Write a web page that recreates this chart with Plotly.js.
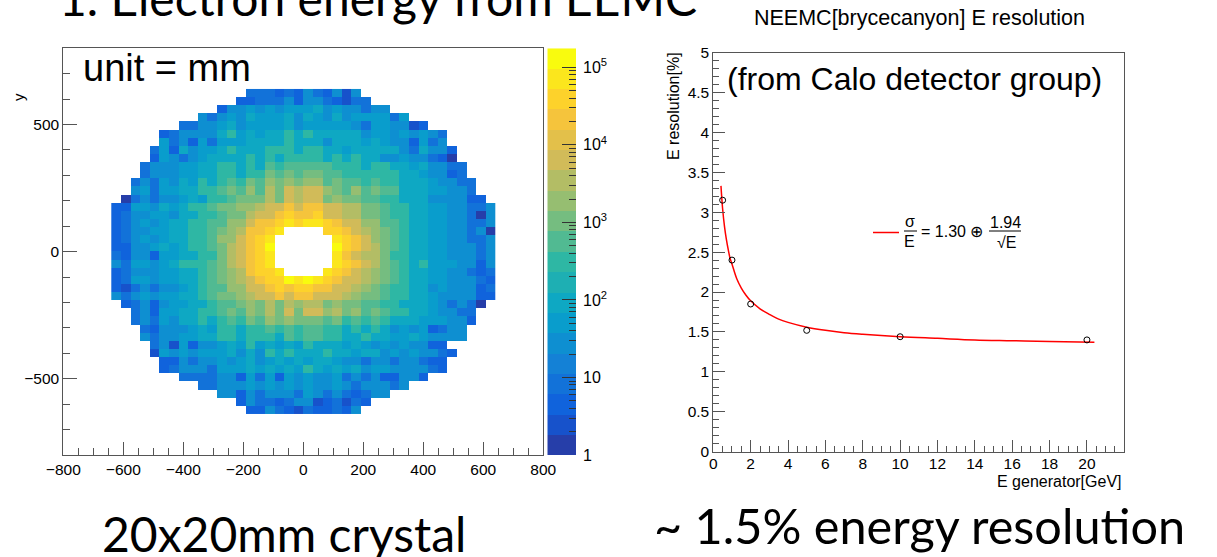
<!DOCTYPE html>
<html><head><meta charset="utf-8">
<script src="https://cdn.plot.ly/plotly-3.0.1.min.js"></script>
<style>html,body{margin:0;padding:0;background:#fff;}#chart{width:1217px;height:557px;}</style>
</head><body><div id="chart"></div>
<script>
// ---------- Left: EEMC hit map, 40 x 40 bins of 32 mm (x,y from -640 to 640 mm) ----------
// one character per bin = colour band (0..9, a..j = 10..19), '.' = empty bin
const hitRows = [
".......... ....333232 532515.... ..........",
".......... ...2233352 5532133... ..........",
".......... .255656566 675655355. ..........",
".........5 3565766675 7657566663 6.........",
".......335 5675666675 6666653665 512.......",
".....23555 5796767797 9777775665 65653.....",
".....63526 3666777797 7757776765 52635.....",
"....362756 6797779997 9977677777 537552....",
"....265356 7777979799 9979797755 655320....",
"...3555667 799797a9aa aaa9997997 7675533...",
"...3555667 799799baba bbaa999999 7765523...",
"..35365769 79a9bacbcb ccabaa9a99 77765533..",
"..56366779 9abacadbed eecbacabaa 77766553..",
".035355676 99abbbdbed eebcbbaa99 777555522.",
"2266576799 abbccdeege ggeeddbba9 9776655335",
"2355665779 9abbdeeghg gheeddbba9 9776655305",
"2356567799 aaccegghih iihgeeccaa 9776655335",
"2355667799 abcdgghi.. ..hhgedcba 9776655350",
"2356567799 acceghi... ...ihgecba 9776655335",
"2255676799 abdeghj... ...jhgedba 9776655535",
"3255266779 9bdeghi... ...igeddb9 9776655535",
"5366567999 abdeghi... ...ihgedba 9796665525",
"2355566779 abcdghhi.. ..ihgedcba 9776655323",
"2366566779 abcdeghhji jihgeedcba 9776655532",
"2135355679 aacceeghgh hggeedcba9 9775655523",
"5356566779 abbcdeegeg geeedcbba9 9776555522",
".235256677 9aabcbdbdc ddbcbbaa99 777653530.",
"..35266779 9abacbdbeb eecdbcaba9 97765533..",
"..35365779 79a9bacbcb bbab9a9a97 77666552..",
"...3255567 699799a9a9 aa99797975 6562355...",
"...5355667 79979997a9 aa99779776 6765555...",
"....351625 5676967676 9777676565 65522.....",
"....165656 6675759797 7797767756 565532....",
".....22535 5656756767 6776553553 55322.....",
".....23555 3666767676 9767675665 55532.....",
".......333 3552636265 6556353522 552.......",
".........3 3555656565 6556535553 5.........",
".......... .552535553 653532355. ..........",
".......... ...2533235 5123132... ..........",
".......... ....225321 322325.... .........."
];
const binLow = -640;      // mm, lower edge of first filled bin
const binWidth = 32;      // mm
const logTop = 5.245;     // log10 of colour-scale maximum (~1.76e5)
const nBands = 20;
const bandColors = [
"rgb(38,62,169)","rgb(23,82,203)","rgb(16,99,220)","rgb(18,114,217)","rgb(20,129,214)",
"rgb(14,143,209)","rgb(9,157,204)","rgb(14,168,195)","rgb(30,175,179)","rgb(46,183,164)",
"rgb(81,186,146)","rgb(117,189,128)","rgb(150,190,113)","rgb(179,189,101)","rgb(209,187,89)",
"rgb(227,192,74)","rgb(245,196,60)","rgb(253,210,43)","rgb(251,230,29)","rgb(249,251,14)"];
const cbarTickVals = [0,1,2,3,4,5];
const cbarTickText = ["1","10","10<sup>2</sup>","10<sup>3</sup>","10<sup>4</sup>","10<sup>5</sup>"];

// ---------- Right: energy resolution ----------
const genE   = [0.5, 1, 2, 5, 10, 20];
const resol  = [3.15, 2.40, 1.85, 1.52, 1.44, 1.40];
const fitE   = [0.41,0.5,0.6,0.7,0.8,0.9,1.0,1.25,1.5,1.75,2,2.5,3,3.5,4,5,6,7,8,10,12,14,16,18,20.4];
const fitRes = [3.33,3.04,2.82,2.66,2.53,2.42,2.35,2.17,2.05,1.96,1.89,1.79,1.72,1.66,1.62,1.56,1.52,1.49,1.47,1.44,1.42,1.40,1.39,1.38,1.37];
const eTickVals = [0,2,4,6,8,10,12,14,16,18,20];

// ---------- build ----------
const step = logTop / nBands;
const rows = hitRows.map(r => r.replace(/ /g, ''));
const nC = rows[0].length, nR = rows.length;
const xC = [], yC = [];
for (let c = 0; c < nC; c++) xC.push(binLow + binWidth * (c + 0.5));
for (let r = 0; r < nR; r++) yC.push(-binLow - binWidth * (r + 0.5));
const zHit = rows.map(row => row.split('').map(ch => ch === '.' ? null : (parseInt(ch, 20) + 0.5) * step));

const cs = [];
bandColors.forEach((col, k) => { cs.push([k / nBands, col]); cs.push([(k + 1) / nBands, col]); });

const cbEdges = [], cbZ = [];
for (let k = 0; k <= nBands; k++) cbEdges.push(k * step);
for (let k = 0; k < nBands; k++) cbZ.push([(k + 0.5) * step]);
const cbMinor = [];
for (let d = 0; d < 6; d++) for (let m = 2; m <= 9; m++) { const v = d + Math.log10(m); if (v < logTop) cbMinor.push(v); }

const W = 1217, H = 557;
const px = v => v / W, py = v => 1 - v / H;
const axFont = {family: "Liberation Sans, Arial, sans-serif", size: 15.5, color: "#000"};
const lineCol = "#555";

const traces = [
  {type: "heatmap", x: xC, y: yC, z: zHit, colorscale: cs, zmin: 0, zmax: logTop, zsmooth: false,
   showscale: false, xaxis: "x", yaxis: "y", hoverinfo: "skip"},
  {type: "heatmap", x: [0], y: cbEdges, z: cbZ, colorscale: cs, zmin: 0, zmax: logTop,
   showscale: false, xaxis: "x3", yaxis: "y3", hoverinfo: "skip"},
  {type: "scatter", mode: "lines", x: fitE, y: fitRes, line: {color: "#ff0000", width: 1.5, shape: "spline"},
   xaxis: "x2", yaxis: "y2", hoverinfo: "skip"},
  {type: "scatter", mode: "markers", x: genE, y: resol,
   marker: {symbol: "circle-open", size: 6, color: "#000", line: {width: 1, color: "#000"}},
   xaxis: "x2", yaxis: "y2", hoverinfo: "skip"}
];

const baseAx = {showgrid: false, zeroline: false, showline: true, linecolor: lineCol, linewidth: 1,
  mirror: true, ticks: "inside", tickcolor: lineCol, tickwidth: 1, tickfont: axFont};

const ann = (text, x, y, size, opts) => Object.assign({text: text, x: px(x), y: py(y), xref: "paper", yref: "paper",
  showarrow: false, font: {family: "Liberation Sans, Arial, sans-serif", size: size, color: "#000"}}, opts || {});
const lato = {family: "Lato, sans-serif", size: 48, color: "#000"};

const layout = {
  width: W, height: H, margin: {l: 0, r: 0, t: 0, b: 0}, showlegend: false,
  paper_bgcolor: "#fff", plot_bgcolor: "#fff", hovermode: false,
  xaxis: Object.assign({}, baseAx, {domain: [px(63.3), px(543.3)], range: [-800, 800], anchor: "y",
    tick0: 0, dtick: 200, ticklen: 13, minor: {dtick: 50, ticklen: 7, ticks: "inside", tickcolor: lineCol}}),
  yaxis: Object.assign({}, baseAx, {domain: [py(455), py(48.3)], range: [-800, 800], anchor: "x",
    tick0: 0, dtick: 500, ticklen: 14, minor: {dtick: 100, ticklen: 7, ticks: "inside", tickcolor: lineCol}}),
  xaxis3: {domain: [px(547.3), px(576)], range: [-0.5, 0.5], anchor: "y3", showticklabels: false,
    ticks: "", showgrid: false, zeroline: false, showline: false},
  yaxis3: {domain: [py(455), py(48.3)], range: [0, logTop], anchor: "x3", side: "right", showgrid: false,
    zeroline: false, showline: false, ticks: "inside", ticklen: 14, tickcolor: "#333", tickmode: "array",
    tickvals: cbarTickVals, ticktext: cbarTickText, ticklabelstandoff: 6,
    tickfont: {family: axFont.family, size: 16, color: "#000"},
    minor: {tickmode: "array", tickvals: cbMinor, ticks: "inside", ticklen: 7, tickcolor: "#333"}},
  xaxis2: Object.assign({}, baseAx, {domain: [px(713.3), px(1124.3)], range: [0, 22], anchor: "y2",
    tickmode: "array", tickvals: eTickVals, ticklen: 12, ticklabelstandoff: -2,
    minor: {dtick: 0.5, tick0: 0, ticklen: 6, ticks: "inside", tickcolor: lineCol}}),
  yaxis2: Object.assign({}, baseAx, {domain: [py(451.7), py(52.5)], range: [0, 5], anchor: "x2",
    tick0: 0, dtick: 0.5, ticklen: 12, minor: {dtick: 0.1, ticklen: 6, ticks: "inside", tickcolor: lineCol}}),
  annotations: [
    Object.assign(ann("1. Electron energy from EEMC", 57, -3, 48, {xanchor: "left", yanchor: "middle"}), {font: lato}),
    Object.assign(ann("20x20mm crystal", 100, 533, 48, {xanchor: "left", yanchor: "middle"}), {font: lato}),
    Object.assign(ann("~ 1.5% energy resolution", 652, 525, 48.5, {xanchor: "left", yanchor: "middle"}), {font: Object.assign({}, lato, {size: 48.6})}),
    ann("unit = mm", 81, 68, 38, {xanchor: "left", yanchor: "middle"}),
    ann("(from Calo detector group)", 725, 79, 32, {xanchor: "left", yanchor: "middle"}),
    ann("NEEMC[brycecanyon] E resolution", 919, 18, 21.5, {xanchor: "center", yanchor: "middle"}),
    ann("y", 18, 97, 15, {xanchor: "center", yanchor: "middle", textangle: -90}),
    ann("E resolution[%]", 673, 106, 16, {xanchor: "center", yanchor: "middle", textangle: -90}),
    ann("E generator[GeV]", 1124, 481, 16, {xanchor: "right", yanchor: "middle"}),
    ann("σ", 910, 221, 16, {xanchor: "center", yanchor: "middle"}),
    ann("E", 910, 241, 16, {xanchor: "center", yanchor: "middle"}),
    ann("= 1.30 ⊕", 919, 232, 16, {xanchor: "left", yanchor: "middle"}),
    ann("1.94", 1005, 222, 16, {xanchor: "center", yanchor: "middle"}),
    ann("√E", 1006, 242, 16, {xanchor: "center", yanchor: "middle"})
  ],
  shapes: [
    {type: "line", xref: "paper", yref: "paper", x0: px(873), x1: px(899), y0: py(232.5), y1: py(232.5), line: {color: "#ff0000", width: 1.5}},
    {type: "line", xref: "paper", yref: "paper", x0: px(904), x1: px(917), y0: py(231), y1: py(231), line: {color: "#000", width: 1}},
    {type: "line", xref: "paper", yref: "paper", x0: px(989), x1: px(1021), y0: py(231), y1: py(231), line: {color: "#000", width: 1}}
  ]
};

Plotly.newPlot("chart", traces, layout, {staticPlot: true, displayModeBar: false});
</script>
</body></html>
